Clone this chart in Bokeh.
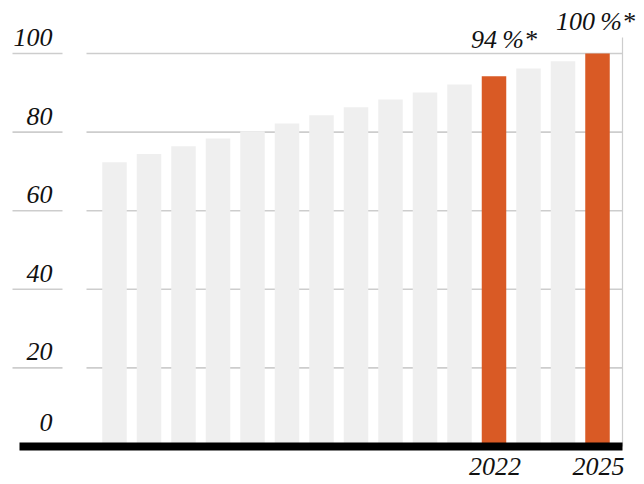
from bokeh.plotting import figure
from bokeh.models import Range1d, ColumnDataSource
from bokeh.core.properties import value
from bokeh.embed import file_html
from bokeh.resources import INLINE

# ---- data ----
years = [2011, 2012, 2013, 2014, 2015, 2016, 2017, 2018, 2019, 2020, 2021, 2022, 2023, 2024, 2025]
shares = [72.3, 74.4, 76.4, 78.4, 80.2, 82.2, 84.3, 86.3, 88.3, 90.1, 92.1, 94.2, 96.2, 98.0, 100.0]
highlight_years = [2022, 2025]
value_labels = ["94\u2009%*", "100\u2009%*"]
y_ticks = [0, 20, 40, 60, 80, 100]
x_tick_labels = ["2022", "2025"]

# ---- layout (pixels of the canvas) ----
W, H = 644, 484
STEP = 34.5          # px between bar centres
FIRST = 114.0        # px of first bar centre
PXU = 3.93           # px per unit of value
ZERO = 446.0         # px (from top) of value 0
BL = -9              # baseline correction for text

def px_x(px):
    return (px - FIRST) / STEP

def px_y(py):
    return (ZERO - py) / PXU

GREY = "#efefef"
ORANGE = "#d95a25"
GRID = "#cdcdcd"
FONT = "Liberation Serif"
FS = "26px"

p = figure(width=W, height=H, output_backend="svg", toolbar_location=None,
           x_range=Range1d(px_x(0), px_x(W)), y_range=Range1d(px_y(H), px_y(0)),
           x_axis_type=None, y_axis_type=None, min_border=0)
p.outline_line_color = None
p.xgrid.visible = False
p.ygrid.visible = False
p.background_fill_color = "white"
p.border_fill_color = "white"

idx = list(range(len(years)))
colors = [ORANGE if y in highlight_years else GREY for y in years]

# grid lines (main part + short piece under the labels)
gt = [t for t in y_ticks if t > 0]
p.segment(x0=[px_x(86)] * len(gt), x1=[px_x(622)] * len(gt), y0=gt, y1=gt,
          line_color=GRID, line_width=1.6)
p.segment(x0=[px_x(12)] * len(gt), x1=[px_x(62)] * len(gt), y0=gt, y1=gt,
          line_color=GRID, line_width=1.6)

# right vertical rule
p.segment(x0=[px_x(622)], x1=[px_x(622)], y0=[0], y1=[px_y(37)],
          line_color=GRID, line_width=1.2)

# bars
src = ColumnDataSource(dict(x=idx, top=shares, color=colors))
p.vbar(x="x", top="top", bottom=0, width=24.5 / STEP, fill_color="color",
       line_color=None, source=src)

# baseline
p.segment(x0=[px_x(19)], x1=[px_x(622)], y0=[0], y1=[0],
          line_color="black", line_width=8, line_cap="butt")

# y tick labels
for t in y_ticks:
    p.text(x=[px_x(52)], y=[t], text=[str(t)], text_align="right",
           text_baseline="alphabetic", y_offset=(-15 if t == 0 else -7) + BL,
           text_font=value(FONT), text_font_style="italic",
           text_font_size=FS, text_color="#111111")

# x labels for highlighted years
hx = [years.index(y) for y in highlight_years]
p.text(x=hx, y=[0] * len(hx), text=x_tick_labels, text_align="center",
       text_baseline="alphabetic", y_offset=29 + BL, x_offset=1,
       text_font=value(FONT), text_font_style="italic",
       text_font_size=FS, text_color="#111111")

# value labels above highlighted bars
label_dx = [10, -2]
label_dy = [-28, -23]
for i, y in enumerate(highlight_years):
    k = years.index(y)
    p.text(x=[k], y=[shares[k]], text=[value_labels[i]], text_align="center",
           text_baseline="alphabetic", x_offset=label_dx[i], y_offset=label_dy[i] + BL,
           text_font=value(FONT), text_font_style="italic",
           text_font_size=FS, text_color="#111111")

open("out.html", "w").write(file_html(p, INLINE))
